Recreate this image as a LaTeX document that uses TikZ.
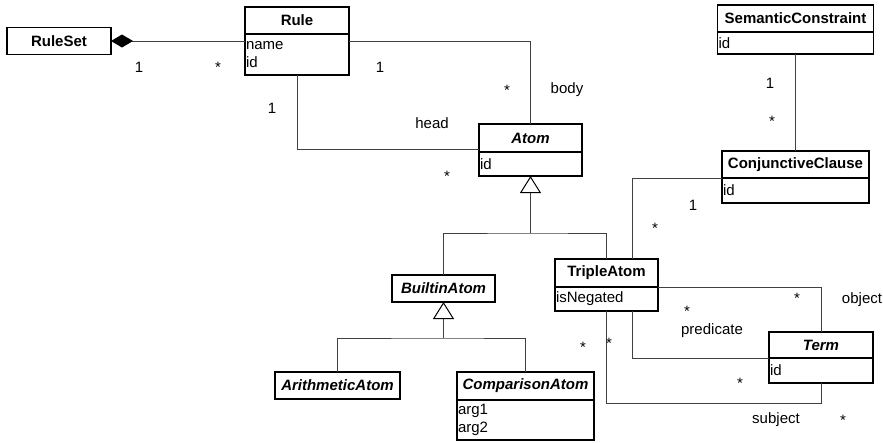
\documentclass[tikz,border=0pt]{standalone}
\usepackage{fontspec}
\setmainfont{Liberation Sans}
\usetikzlibrary{arrows.meta, positioning, calc}

\begin{document}
\begin{tikzpicture}[x=1pt, y=-1pt, font=\fontsize{15}{18}\selectfont,
    classhead/.style={draw=black, line width=1.3pt, outer sep=0pt, inner sep=0pt, minimum height=27pt, font=\fontsize{15}{18}\selectfont\bfseries},
    abstracthead/.style={classhead, font=\fontsize{15}{18}\selectfont\bfseries\itshape},
    classattr/.style={draw=black, line width=1.3pt, outer sep=0pt, inner xsep=1pt, inner ysep=0pt, align=left, minimum height=24pt},
    assoc/.style={draw=black!75, line width=1pt},
    inherit/.style={assoc, -{Triangle[open, length=17pt, width=21pt, black]}},
    compose/.style={assoc, {Diamond[length=22pt, width=13pt, black]}-},
    mult/.style={anchor=base, inner sep=0pt}]
    \useasboundingbox (0,0) rectangle (883,442);

    % classes
    \node[classhead, minimum width=104pt] (ruleset) at (59,41) {RuleSet};
    \node[classhead, minimum width=104pt] (rulehead) at (297,20.5) {Rule};
    \node[classattr, text width=102pt, minimum height=41pt, below=0pt of rulehead] (ruleattr) {name\\id};
    \node[abstracthead, minimum width=103pt, minimum height=28pt] (atomhead) at (530.5,138) {Atom};
    \node[classattr, text width=101pt, below=0pt of atomhead] (atomattr) {id};
    \node[classhead, minimum width=156pt] (schead) at (795.5,18.5) {SemanticConstraint};
    \node[classattr, text width=154pt, minimum height=22pt, below=0pt of schead] (scattr) {id};
    \node[classhead, minimum width=147pt] (cchead) at (795.5,164.5) {ConjunctiveClause};
    \node[classattr, text width=145pt, minimum height=25pt, below=0pt of cchead] (ccattr) {id};
    \node[abstracthead, minimum width=103pt] (builtinhead) at (443.5,288.5) {BuiltinAtom};
    \node[classhead, minimum width=103pt, minimum height=28pt] (triplehead) at (606.5,273) {TripleAtom};
    \node[classattr, text width=101pt, below=0pt of triplehead] (tripleattr) {isNegated};
    \node[abstracthead, minimum width=125pt] (arithhead) at (337.5,385.5) {ArithmeticAtom};
    \node[abstracthead, minimum width=137pt, minimum height=28pt] (comphead) at (525.5,386) {ComparisonAtom};
    \node[classattr, text width=135pt, minimum height=40pt, below=0pt of comphead] (compattr) {arg1\\arg2};
    \node[abstracthead, minimum width=104pt, minimum height=26pt] (termhead) at (821,345) {Term};
    \node[classattr, text width=102pt, minimum height=25pt, below=0pt of termhead] (termattr) {id};

    % bend points
    \coordinate (atomjoin) at (530.5,233);
    \coordinate (builtinjoin) at (443.5,338);
    \coordinate (headbend) at (297,149);
    \coordinate (subjbend) at (606.5,403);

    % associations
    \draw[compose] (ruleset.east) -- (ruleset -| ruleattr.west);
    \draw[assoc] (ruleset -| ruleattr.east) -| (atomhead.north);
    \draw[assoc] (ruleattr.south) -- (headbend) -- (headbend -| atomhead.west);
    \draw[assoc] (scattr.south) -- (cchead.north);
    \draw[assoc] (cchead.south west) -| ([xshift=25.5pt]triplehead.north);
    \draw[assoc] (triplehead.south east) -| (termhead.north);
    \draw[assoc] ([xshift=25.5pt]tripleattr.south) |- (termhead.south west);
    \draw[assoc] (tripleattr.south) -- (subjbend) -| (termattr.south);

    % generalizations
    \draw[assoc] (builtinhead.north) |- (atomjoin) -| (triplehead.north);
    \draw[inherit] (atomjoin) -- (atomattr.south);
    \draw[assoc] (arithhead.north) |- (builtinjoin) -| (comphead.north);
    \draw[inherit] (builtinjoin) -- (builtinhead.south);

    % multiplicities and roles
    \node[mult] (rsone) at (139,72) {1};
    \node[mult] (rsmany) at (218,72) {*};
    \node[mult] (bodyone) at (380,72) {1};
    \node[mult] (bodymany) at (507,95) {*};
    \node[mult] (bodyrole) at (567,93) {body};
    \node[mult] (headone) at (272,113) {1};
    \node[mult] (headrole) at (432,128) {head};
    \node[mult] (headmany) at (447,181) {*};
    \node[mult] (scone) at (770,88) {1};
    \node[mult] (scmany) at (772,126) {*};
    \node[mult] (ccone) at (693,210) {1};
    \node[mult] (ccmany) at (655,233) {*};
    \node[mult] (objmany) at (797,303) {*};
    \node[mult] (objrole) at (862,303) {object};
    \node[mult] (predmany) at (687,316) {*};
    \node[mult] (predrole) at (712,334) {predicate};
    \node[mult] (tripmanya) at (583,352) {*};
    \node[mult] (tripmanyb) at (609,348) {*};
    \node[mult] (subjmany) at (740,388) {*};
    \node[mult] (subjrole) at (776,423) {subject};
    \node[mult] (termmany) at (843,425) {*};
\end{tikzpicture}
\end{document}
